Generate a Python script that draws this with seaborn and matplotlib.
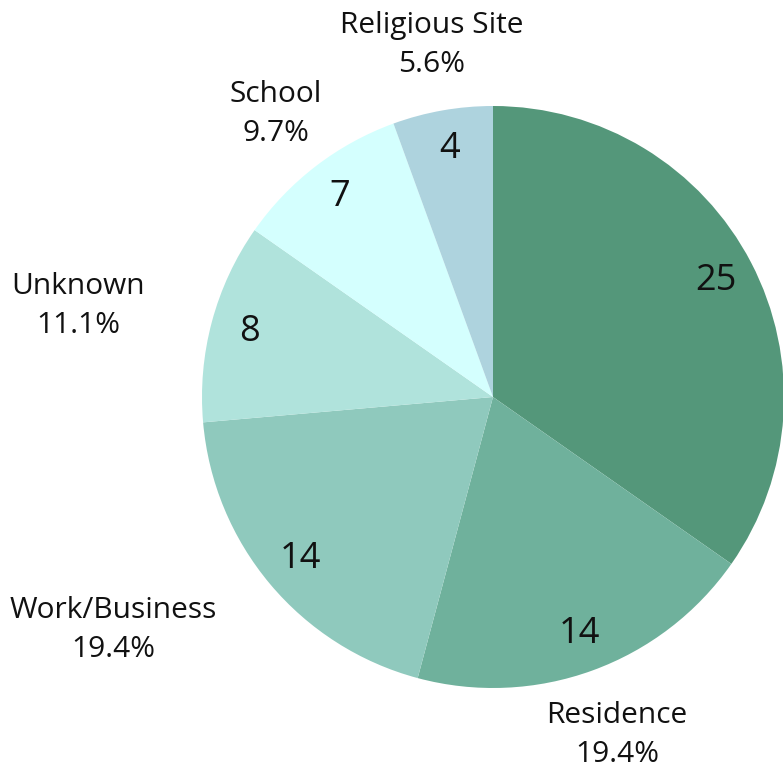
import matplotlib
matplotlib.use("Agg")
import matplotlib.pyplot as plt
import seaborn as sns
import numpy as np

sns.set_theme(style="white")
plt.rcParams['font.family'] = ['Open Sans', 'DejaVu Sans']

categories = ["Other", "Residence", "Work/Business", "Unknown", "School", "Religious Site"]
counts = [25, 14, 14, 8, 7, 4]
colors = ["#54977a", "#6fb19c", "#8fc9bd", "#b0e3dc", "#d4fffe", "#aed3de"]
show_outer = [False, True, True, True, True, True]
# outer label anchor positions (pixel coords, text placement only)
label_pos = {
    "Residence": (617, 735),
    "Work/Business": (113, 630),
    "Unknown": (78, 306),
    "School": (276, 114),
    "Religious Site": (432, 45),
}

W, H = 783, 771
fig = plt.figure(figsize=(W / 100, H / 100), dpi=100)
ax = fig.add_axes([0, 0, 1, 1])

cx, cy, r = 493, H - 397, 291
total = sum(counts)
wedges, texts = ax.pie(counts, colors=colors, startangle=90, counterclock=False,
                       center=(cx, cy), radius=r, frame=True,
                       wedgeprops=dict(linewidth=0))
ax.set_xlim(0, W)
ax.set_ylim(0, H)
ax.set_aspect("equal")
ax.axis("off")

for c, cat, w in zip(counts, categories, wedges):
    mid = np.deg2rad((w.theta1 + w.theta2) / 2)
    d = 0.865 * r
    ax.text(cx + d * np.cos(mid), cy + d * np.sin(mid), str(c), ha="center", va="center",
            fontsize=26, color="#111111")
for c, cat, so in zip(counts, categories, show_outer):
    if not so:
        continue
    px, py = label_pos[cat]
    ax.text(px, H - py, f"{cat}\n{c / total * 100:.1f}%", ha="center", va="center",
            fontsize=21.5, linespacing=1.45, color="#111111")

fig.savefig("out.png", dpi=100)
